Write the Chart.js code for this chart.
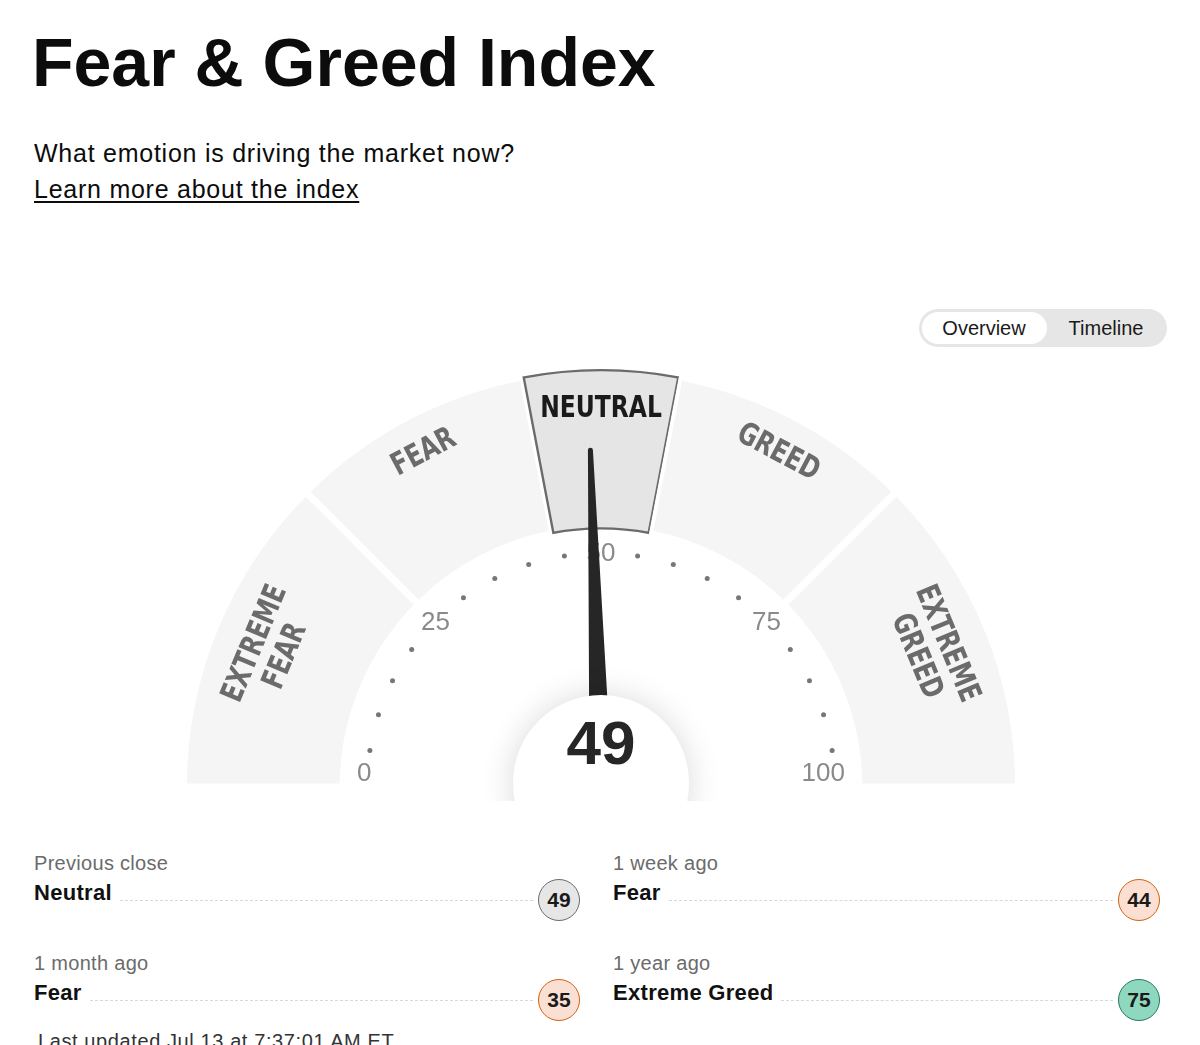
<!DOCTYPE html>
<html>
<head>
<meta charset="utf-8">
<script src="https://cdn.jsdelivr.net/npm/chart.js@4.4.0/dist/chart.umd.min.js"></script>
<style>
  body { margin: 0; background: #fff; width: 1200px; height: 1045px; overflow: hidden; position: relative;
         font-family: "Liberation Sans", Arial, sans-serif; color: #0c0c0c; }
  .abs { position: absolute; white-space: nowrap; }
  h1 { position: absolute; left: 32px; top: 22px; margin: 0; font-size: 68px; line-height: 80px; font-weight: 700; }
  .sub { left: 34px; top: 139px; font-size: 25px; line-height: 28px; letter-spacing: 0.75px; }
  .link { left: 34px; top: 175px; font-size: 25px; line-height: 28px; letter-spacing: 0.75px; text-decoration: underline; text-underline-offset: 3px; }
  .toggle { left: 919px; top: 309px; width: 248px; height: 38px; border-radius: 19px; background: #e6e6e6; }
  .toggle .on { position: absolute; left: 3px; top: 3px; width: 125px; height: 32px; border-radius: 16px; background: #fff; }
  .toggle span { position: absolute; top: 0; line-height: 38px; font-size: 20px; color: #1a1a1a; transform: translateX(-50%); }
  #wrap { position: absolute; left: 161px; top: 353px; width: 880px; height: 448px; }
  .hlabel { font-size: 20px; color: #6b6b6b; line-height: 24px; letter-spacing: 0.3px; }
  .hrating { font-size: 22px; font-weight: 700; color: #111; line-height: 24px; letter-spacing: 0.3px; }
  .hdots { position: absolute; height: 0; border-top: 1.5px dashed #d8d8d8; }
  .hval { position: absolute; width: 40px; height: 40px; border-radius: 50%; border: 1.5px solid; text-align: center;
          line-height: 40px; font-size: 21px; font-weight: 700; color: #1a1a1a; }
  .updated { left: 38px; top: 1029px; font-size: 20px; color: #333; line-height: 24px; letter-spacing: 0.6px; }
</style>
</head>
<body>
<h1>Fear &amp; Greed Index</h1>
<div class="abs sub">What emotion is driving the market now?</div>
<div class="abs link">Learn more about the index</div>
<div class="abs toggle"><div class="on"></div><span style="left:65px">Overview</span><span style="left:187px">Timeline</span></div>
<div id="wrap"><canvas id="chart" width="880" height="448"></canvas></div>
<div id="history"></div>
<div class="abs updated">Last updated Jul 13 at 7:37:01 AM ET</div>
<script>
// zone edges as they appear on the dial
const zoneBounds = [0, 25, 44, 56, 75, 100];
const zoneNames = [["EXTREME", "FEAR"], ["FEAR"], ["NEUTRAL"], ["GREED"], ["EXTREME", "GREED"]];
const tickLabels = [0, 25, 50, 75, 100];
const currentValue = 49;
const currentZone = 2;

const historyLabels = ["Previous close", "1 week ago", "1 month ago", "1 year ago"];
const historyRatings = ["Neutral", "Fear", "Fear", "Extreme Greed"];
const historyValues = [49, 44, 35, 75];

const ratingColors = {
  "Neutral": ["#e6e6e6", "#6b6b6b"],
  "Fear": ["#fcdfd3", "#d0640f"],
  "Extreme Greed": ["#8fd8c0", "#2b7a55"],
};

// history rows
const hist = document.getElementById("history");
historyLabels.forEach((lab, i) => {
  const col = i % 2, row = Math.floor(i / 2);
  const x = col ? 613 : 34, y = row ? 951 : 851;
  const cx = col ? 1139 : 559;
  const c = ratingColors[historyRatings[i]];
  hist.insertAdjacentHTML("beforeend",
    `<div class="abs hlabel" style="left:${x}px;top:${y}px">${lab}</div>` +
    `<div class="abs hrating" id="r${i}" style="left:${x}px;top:${y + 30}px">${historyRatings[i]}</div>` +
    `<div class="hval" style="left:${cx - 21}px;top:${y + 28}px;background:${c[0]};border-color:${c[1]}">${historyValues[i]}</div>`);
  const rw = document.getElementById("r" + i).offsetWidth;
  hist.insertAdjacentHTML("beforeend",
    `<div class="hdots" style="left:${x + rw + 8}px;top:${y + 49}px;width:${cx - 22 - x - rw - 12}px"></div>`);
});

const valToAngle = v => Math.PI + (v / 100) * Math.PI;

const gaugePlugin = {
  id: "gauge",
  afterDatasetsDraw(chart) {
    const arc = chart.getDatasetMeta(0).data[0];
    const cx = arc.x, cy = arc.y;
    const ctx = chart.ctx;
    ctx.save();

    // zone names
    zoneNames.forEach((lines, i) => {
      const mid = (zoneBounds[i] + zoneBounds[i + 1]) / 2;
      const a = valToAngle(mid);
      const radii = lines.length === 2 ? [374, 341] : [378];
      lines.forEach((txt, j) => {
        ctx.save();
        ctx.translate(cx + radii[j] * Math.cos(a), cy + radii[j] * Math.sin(a));
        ctx.rotate(a + Math.PI / 2);
        ctx.scale(0.84, 1);
        ctx.font = 'bold 31px "Liberation Sans Narrow", "DejaVu Sans Condensed", sans-serif';
        ctx.fillStyle = i === currentZone ? "#1a1a1a" : "#6b6b6b";
        ctx.textAlign = "center";
        ctx.textBaseline = "middle";
        ctx.fillText(txt, 0, 0);
        ctx.restore();
      });
    });

    // dots
    ctx.fillStyle = "#777";
    for (let v = 5; v < 100; v += 5) {
      if (tickLabels.includes(v)) continue;
      const a = valToAngle(v);
      ctx.beginPath();
      ctx.arc(cx + 234 * Math.cos(a), cy + 234 * Math.sin(a), 2.5, 0, Math.PI * 2);
      ctx.fill();
    }
    // tick labels
    ctx.font = '26px "Liberation Sans", Arial, sans-serif';
    ctx.fillStyle = "#8a8a8a";
    ctx.textBaseline = "middle";
    tickLabels.forEach(v => {
      const a = valToAngle(v);
      if (v === 0) { ctx.textAlign = "left"; ctx.fillText(v, cx - 244, cy - 13); return; }
      if (v === 100) { ctx.textAlign = "right"; ctx.fillText(v, cx + 244, cy - 13); return; }
      ctx.textAlign = "center";
      ctx.fillText(v, cx + 234 * Math.cos(a), cy + 234 * Math.sin(a) + 1);
    });

    // needle
    const a = valToAngle(currentValue);
    const ux = Math.cos(a), uy = Math.sin(a), px = -uy, py = ux;
    const tip = 337;
    ctx.fillStyle = "#262626";
    ctx.beginPath();
    ctx.moveTo(cx + px * 11.5, cy + py * 11.5);
    ctx.lineTo(cx + ux * tip + px * 2.5, cy + uy * tip + py * 2.5);
    ctx.arc(cx + ux * tip, cy + uy * tip, 2.5, a + Math.PI / 2, a - Math.PI / 2, true);
    ctx.lineTo(cx - px * 11.5, cy - py * 11.5);
    ctx.closePath();
    ctx.fill();

    // hub
    ctx.save();
    ctx.shadowColor = "rgba(0,0,0,0.15)";
    ctx.shadowBlur = 32;
    ctx.fillStyle = "#fff";
    ctx.beginPath();
    ctx.arc(cx, cy - 4, 88, 0, Math.PI * 2);
    ctx.fill();
    ctx.restore();

    ctx.font = 'bold 62px "Liberation Sans", Arial, sans-serif';
    ctx.fillStyle = "#262626";
    ctx.textAlign = "center";
    ctx.textBaseline = "middle";
    ctx.fillText(currentValue, cx, cy - 40);
    ctx.restore();
  }
};

const zoneSizes = zoneBounds.slice(1).map((b, i) => b - zoneBounds[i]);

new Chart(document.getElementById("chart").getContext("2d"), {
  type: "doughnut",
  data: {
    labels: zoneNames.map(n => n.join(" ")),
    datasets: [{
      data: zoneSizes,
      backgroundColor: zoneSizes.map((_, i) => i === currentZone ? "#e5e5e5" : "#f5f5f5"),
      borderColor: zoneSizes.map((_, i) => i === currentZone ? "#6b6b6b" : "#ffffff"),
      borderWidth: zoneSizes.map((_, i) => i === currentZone ? 2 : 3.5),
      borderAlign: "inner",
    }],
  },
  options: {
    responsive: false,
    animation: false,
    events: [],
    rotation: -90,
    circumference: 180,
    cutout: "61.6%",
    layout: { padding: { top: 16, bottom: 14, left: 22, right: 22 } },
    plugins: { legend: { display: false }, tooltip: { enabled: false } },
  },
  plugins: [gaugePlugin],
});
</script>
</body>
</html>
